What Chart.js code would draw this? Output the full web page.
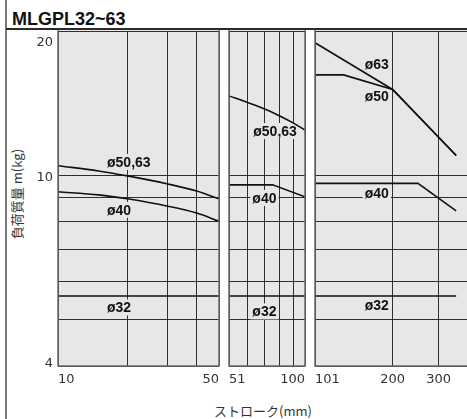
<!DOCTYPE html>
<html lang="ja">
<head>
<meta charset="utf-8">
<title>MLGPL32~63</title>
<script src="https://cdn.jsdelivr.net/npm/chart.js@4.4.1/dist/chart.umd.min.js"></script>
<style>
  html, body { margin: 0; padding: 0; background: #fff; }
  #wrap { position: relative; width: 467px; height: 419px; overflow: hidden; background: #fff; }
  #wrap canvas { position: absolute; top: 0; }
  .rule-v { position: absolute; left: 5px; top: 0; width: 2px; height: 419px; background: #7a7a7a; }
  .rule-h { position: absolute; left: 6px; top: 28px; width: 461px; height: 2px; background: #2b2b2b; }
  #title { position: absolute; left: 12px; top: 10px; font: bold 18px/18px "Liberation Sans", Arial, sans-serif; color: #111; white-space: nowrap; }
  #ytitle { position: absolute; left: 16px; top: 194px; transform: translate(-50%, -50%) rotate(-90deg); font: 13px/1 "Noto Sans CJK JP", sans-serif; color: #333; white-space: nowrap; }
  #xtitle { position: absolute; left: 263px; top: 410px; transform: translate(-50%, -50%); font: 13px/1 "Noto Sans CJK JP", sans-serif; color: #333; white-space: nowrap; }
</style>
</head>
<body>
<div id="wrap">
  <div class="rule-v"></div>
  <div class="rule-h"></div>
  <div id="title">MLGPL32~63</div>
  <div id="ytitle">負荷質量 m(kg)</div>
  <div id="xtitle">ストローク(mm)</div>
</div>
<script>
// Load mass axis (kg), logarithmic
const loadMin = 4, loadMax = 20;
const loadGrid = [4, 5, 6, 7, 8, 9, 10, 20];
const loadTickLabels = [20, 10, 4];

// Stroke 10–50 mm
const strokeRange1 = [10, 50];
const strokeGrid1 = [10, 20, 30, 40, 50];
const strokeLabels1 = [10, 50];
const stroke1 = [10, 15, 20, 30, 40, 50];
const load1_50_63 = [10.47, 10.21, 9.97, 9.59, 9.27, 8.93];
const load1_40 = [9.24, 9.10, 8.93, 8.62, 8.34, 8.02];
const stroke1_32 = [10, 50];
const load1_32 = [5.6, 5.6];

// Stroke 51–100 mm
const strokeRange2 = [51, 100];
const strokeGrid2 = [51, 60, 70, 80, 90, 100];
const strokeLabels2 = [51, 100];
const stroke2 = [51, 60, 70, 80, 90, 100];
const load2_50_63 = [14.64, 14.19, 13.75, 13.30, 12.86, 12.43];
const stroke2_40 = [51, 75, 100];
const load2_40 = [9.55, 9.55, 9.02];
const stroke2_32 = [51, 100];
const load2_32 = [5.6, 5.6];

// Stroke 101 mm and longer
const strokeRange3 = [101, 385];
const strokeGrid3 = [101, 200, 300, 385];
const strokeLabels3 = [101, 200, 300];
const stroke3_63 = [101, 200, 350];
const load3_63 = [18.9, 15.1, 11.0];
const stroke3_50 = [101, 130, 200, 350];
const load3_50 = [16.2, 16.2, 15.1, 11.0];
const stroke3_40 = [101, 250, 350];
const load3_40 = [9.62, 9.62, 8.43];
const stroke3_32 = [101, 350];
const load3_32 = [5.6, 5.6];

// Bore size tags, anchored in stroke/load units
const tags1 = [
  { text: 'ø50,63', x: 20.3, y: 10.66 },
  { text: 'ø40', x: 18.4, y: 8.47 },
  { text: 'ø32', x: 18.4, y: 5.30 }
];
const tags2 = [
  { text: 'ø50,63', x: 76.7, y: 12.37 },
  { text: 'ø40', x: 69.8, y: 8.97 },
  { text: 'ø32', x: 69.8, y: 5.20 }
];
const tags3 = [
  { text: 'ø63', x: 174, y: 17.07 },
  { text: 'ø50', x: 174, y: 14.64 },
  { text: 'ø40', x: 174, y: 9.19 },
  { text: 'ø32', x: 174, y: 5.35 }
];

const panels = [
  { left: 58, right: 219, range: strokeRange1, grid: strokeGrid1, labels: strokeLabels1,
    series: [[stroke1, load1_50_63, true], [stroke1, load1_40, true], [stroke1_32, load1_32, false]],
    tags: tags1, yLabels: true, closeRight: true },
  { left: 229, right: 305, range: strokeRange2, grid: strokeGrid2, labels: strokeLabels2,
    series: [[stroke2, load2_50_63, true], [stroke2_40, load2_40, false], [stroke2_32, load2_32, false]],
    tags: tags2, yLabels: false, closeRight: true },
  { left: 315, right: 467, range: strokeRange3, grid: strokeGrid3, labels: strokeLabels3,
    series: [[stroke3_63, load3_63, false], [stroke3_50, load3_50, false], [stroke3_40, load3_40, false], [stroke3_32, load3_32, false]],
    tags: tags3, yLabels: false, closeRight: false }
];

const BG = '#e6e7e6';
const GRID = '#2e2e2e';
const FRAME = '#6b6b6b';
const TOP = 31, BOTTOM = 366, AXIS_H = 34, SIDE = 10;

function makePanel(p) {
  const leftSpace = p.yLabels ? p.left : SIDE;
  const x0 = p.left - leftSpace;
  const w = leftSpace + (p.right - p.left) + SIDE;
  const h = BOTTOM + AXIS_H;
  const cv = document.createElement('canvas');
  cv.width = w; cv.height = h;
  cv.style.left = x0 + 'px';
  cv.style.width = w + 'px';
  cv.style.height = h + 'px';
  document.getElementById('wrap').appendChild(cv);

  const decor = {
    id: 'panelDecor',
    beforeDraw(chart) {
      const { ctx, chartArea: a } = chart;
      ctx.save();
      ctx.fillStyle = BG;
      ctx.fillRect(a.left, a.top - 1, a.right - a.left, a.bottom - a.top + 1);
      ctx.restore();
    },
    beforeDatasetsDraw(chart) {
      const { ctx } = chart;
      const xs = chart.scales.x, ys = chart.scales.y;
      ctx.save();
      ctx.font = 'bold 14px "Liberation Sans", Arial, sans-serif';
      ctx.textAlign = 'center';
      ctx.textBaseline = 'alphabetic';
      p.tags.forEach(t => {
        const px = xs.getPixelForValue(t.x);
        const py = ys.getPixelForValue(t.y);
        const tw = ctx.measureText(t.text).width;
        ctx.fillStyle = BG;
        ctx.fillRect(px - tw / 2 - 2, py - 8, tw + 4, 16);
        ctx.fillStyle = '#111';
        ctx.fillText(t.text, px, py + 5);
      });
      ctx.restore();
    },
    afterDraw(chart) {
      const { ctx, chartArea: a } = chart;
      ctx.save();
      ctx.strokeStyle = FRAME;
      ctx.lineWidth = 1.5;
      ctx.beginPath();
      ctx.moveTo(a.left, a.top - 1);
      ctx.lineTo(a.left, a.bottom);
      ctx.lineTo(a.right, a.bottom);
      if (p.closeRight) ctx.lineTo(a.right, a.top - 1);
      ctx.stroke();
      if (p.yLabels) {
        const ys = chart.scales.y;
        ctx.font = '13px "DejaVu Sans", sans-serif';
        ctx.fillStyle = '#333';
        ctx.textAlign = 'right';
        ctx.textBaseline = 'alphabetic';
        loadTickLabels.forEach(v => {
          const py = ys.getPixelForValue(v);
          const base = v === loadMax ? py + 15 : (v === loadMin ? py + 0.5 : py + 5.5);
          ctx.fillText(String(v), a.left - 5, base);
        });
      }
      ctx.restore();
    }
  };

  const chart = new Chart(cv, {
    type: 'line',
    data: {
      datasets: p.series.map(([xs, ys, smooth]) => ({
        data: xs.map((x, i) => ({ x: x, y: ys[i] })),
        borderColor: '#111',
        borderWidth: 1.6,
        pointRadius: 0,
        fill: false,
        tension: 0,
        cubicInterpolationMode: smooth ? 'monotone' : 'default'
      }))
    },
    options: {
      responsive: false,
      animation: false,
      devicePixelRatio: 1,
      layout: { padding: { left: leftSpace, right: SIDE, top: TOP, bottom: 0 } },
      plugins: { legend: { display: false }, tooltip: { enabled: false } },
      scales: {
        x: {
          type: 'logarithmic', position: 'bottom',
          min: p.range[0], max: p.range[1],
          afterBuildTicks: s => { s.ticks = p.grid.map(v => ({ value: v })); },
          afterFit: s => { s.height = AXIS_H; },
          grid: { color: GRID, lineWidth: 1, drawTicks: false },
          border: { display: false },
          ticks: {
            autoSkip: false, maxRotation: 0, minRotation: 0, align: 'inner', padding: 6,
            color: '#333', font: { family: '"DejaVu Sans", sans-serif', size: 13 },
            callback: v => (p.labels.includes(v) ? String(v) : '')
          }
        },
        y: {
          type: 'logarithmic', position: 'left',
          min: loadMin, max: loadMax,
          afterBuildTicks: s => { s.ticks = loadGrid.map(v => ({ value: v })); },
          afterFit: s => { s.width = 0; },
          grid: { color: GRID, lineWidth: 1, drawTicks: false },
          border: { display: false },
          ticks: { display: false }
        }
      }
    },
    plugins: [decor]
  });

  // keep the plot area on its intended pixel box
  const a = chart.chartArea;
  const want = { left: leftSpace, right: w - SIDE, top: TOP, bottom: BOTTOM };
  const pad = {
    left: leftSpace + (want.left - a.left),
    right: SIDE + (a.right - want.right),
    top: TOP + (want.top - a.top),
    bottom: Math.max(0, a.bottom - want.bottom)
  };
  if (pad.left !== leftSpace || pad.right !== SIDE || pad.top !== TOP || pad.bottom !== 0) {
    chart.options.layout.padding = pad;
    chart.update();
  }
  return chart;
}

panels.forEach(makePanel);
</script>
</body>
</html>
